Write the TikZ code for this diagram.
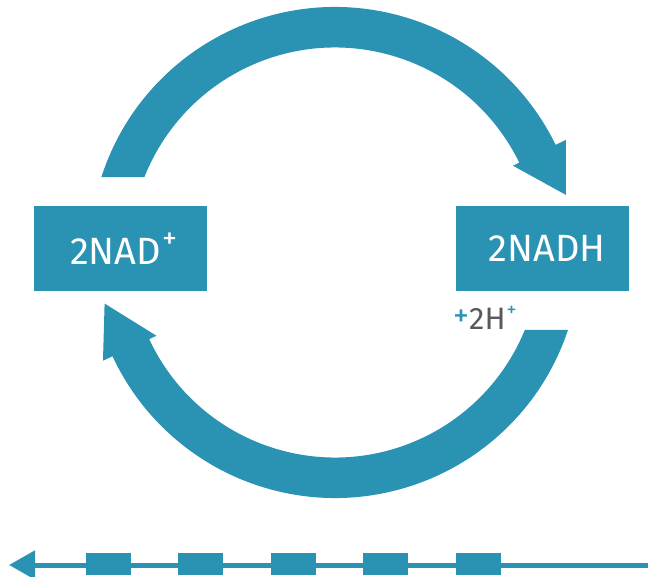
\documentclass[tikz,border=0pt]{standalone}
\usepackage{fontspec}
\setmainfont{Fira Sans}
\usepackage{xcolor}
\usepackage{tikz}
\usetikzlibrary{arrows.meta,calc}
\definecolor{nadblue}{HTML}{2A92B3}
\newcommand{\supplus}[1]{\raisebox{0.42em}{\fontsize{#1}{#1}\selectfont +}}

\begin{document}
\begin{tikzpicture}[
  x=1pt, y=-1pt,
  nadbox/.style={fill=nadblue, minimum width=173pt, minimum height=85pt, inner sep=0pt, text=white, font=\fontsize{38}{46}\selectfont},
  cycarrow/.style={fill=nadblue},
  seg/.style={fill=nadblue, minimum width=45pt, minimum height=22pt, inner sep=0pt},
  chain/.style={-{Triangle[length=26pt, width=28pt]}, line width=5pt, draw=nadblue}
]
\useasboundingbox (0,0) rectangle (648,577);

\node[nadbox] (nad) at (120.5,248.5) {\hspace*{6pt}2NAD\kern1pt\supplus{30}};
\node[nadbox] (nadh) at (542,248.5) {\hspace*{10pt}2NADH};
\node[anchor=base west, inner sep=0pt, text=black!65, font=\fontsize{31}{36}\selectfont] (proton) at (453,330)
  {\textcolor{nadblue}{\raisebox{0.12em}{\fontsize{32}{32}\selectfont +}}2H\kern1pt\textcolor{nadblue}{\supplus{20}}};

% cycle centre
\coordinate (C) at (335,252.5);

% upper arrow: 2NAD+ -> 2NADH
\fill[cycarrow] ($(C)+(197.9:245.5)$) arc[start angle=197.9, end angle=334, radius=245.5]
  -- ($(C)+(334:257)$) -- ($(C)+(346:238)$) -- ($(C)+(334:198)$)
  -- ($(C)+(334:205)$) arc[start angle=334, end angle=201.6, radius=205] -- cycle;

% lower arrow: 2NADH -> 2NAD+
\fill[cycarrow] ($(C)+(18.4:245.5)$) arc[start angle=18.4, end angle=155, radius=245.5]
  -- ($(C)+(155:256)$) -- ($(C)+(167.5:236)$) -- ($(C)+(155:197)$)
  -- ($(C)+(155:205)$) arc[start angle=155, end angle=22.2, radius=205] -- cycle;

% bottom chain
\coordinate (lineR) at (648,565);
\coordinate (lineL) at (9,565);
\draw[chain] (lineR) -- (lineL);
\foreach \i/\x in {1/108.5,2/200.5,3/293,4/385,5/478.5}
  \node[seg] (seg\i) at (\x,564) {};
\end{tikzpicture}
\end{document}
